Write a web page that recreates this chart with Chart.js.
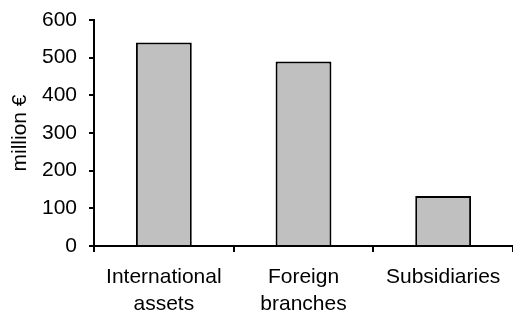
<!DOCTYPE html>
<html>
<head>
<meta charset="utf-8">
<script src="https://cdn.jsdelivr.net/npm/chart.js@4"></script>
<style>
  html, body { margin: 0; padding: 0; background: #fff; }
  canvas { display: block; }
</style>
</head>
<body>
<canvas id="chart" width="513" height="318"></canvas>
<script>
// data
const categories = [['International', 'assets'], ['Foreign', 'branches'], 'Subsidiaries'];
const values = [540, 490, 133];
const yTicks = [0, 100, 200, 300, 400, 500, 600];

const font = { family: '"Liberation Sans", Arial, sans-serif', size: 21, lineHeight: 1.25 };
const xFont = { family: '"Liberation Sans", Arial, sans-serif', size: 21, lineHeight: 1.32 };

const ctx = document.getElementById('chart').getContext('2d');

new Chart(ctx, {
	type: 'bar',
	data: {
		labels: categories,
		datasets: [{
			data: values,
			backgroundColor: '#c0c0c0',
			borderColor: '#000',
			borderWidth: 2,
			categoryPercentage: 0.4,
			barPercentage: 1.0
		}]
	},
	options: {
		responsive: false,
		animation: false,
		devicePixelRatio: 1,
		layout: { padding: { top: 20, right: 0, left: 0, bottom: 0 } },
		plugins: {
			legend: { display: false },
			tooltip: { enabled: false }
		},
		scales: {
			x: {
				offset: true,
				grid: {
					offset: true,
					drawOnChartArea: false,
					drawTicks: true,
					tickLength: 6,
					color: '#000',
					lineWidth: 2
				},
				border: { display: true, color: '#000', width: 2 },
				ticks: { color: '#000', font: xFont, padding: 11, maxRotation: 0, autoSkip: false },
				afterFit(scale) {
					scale.height = 72;
					scale.paddingLeft = 0;
					scale.paddingRight = 0;
				}
			},
			y: {
				min: 0,
				max: 600,
				afterBuildTicks(scale) { scale.ticks = yTicks.map(v => ({ value: v })); },
				grid: {
					drawOnChartArea: false,
					drawTicks: true,
					tickLength: 5,
					color: '#000',
					lineWidth: 2
				},
				border: { display: true, color: '#000', width: 2 },
				ticks: { color: '#000', font: font, padding: 12 },
				title: { display: true, text: 'million €', color: '#000', font: font, padding: { top: 7, bottom: 0 } },
				afterFit(scale) {
					scale.width = 94;
					scale.paddingTop = 0;
					scale.paddingBottom = 0;
				}
			}
		}
	}
});
</script>
</body>
</html>
